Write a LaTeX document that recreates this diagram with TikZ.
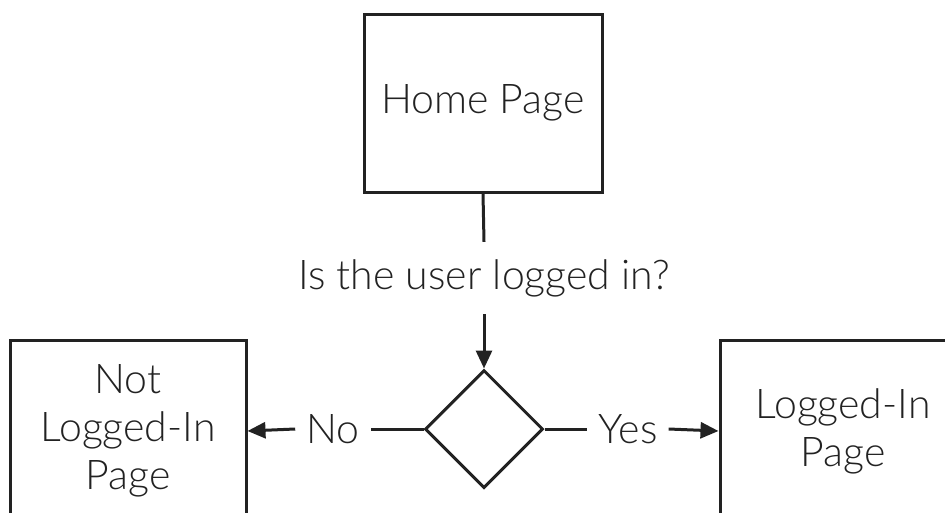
\documentclass[tikz,border=0pt]{standalone}
\usepackage{fontspec}
\setmainfont{Lato}[UprightFont={* Light}]
\usetikzlibrary{shapes.geometric,arrows.meta}
\definecolor{ink}{RGB}{34,34,34}
\begin{document}
\begin{tikzpicture}[x=1pt,y=-1pt,
  every node/.style={font=\fontsize{41}{48}\selectfont, text=ink},
  box/.style={draw=ink, line width=3pt, rectangle, inner sep=0pt, align=center, minimum width=236pt, minimum height=182pt},
  conn/.style={draw=ink, line width=3pt},
  arr/.style={conn, -{Triangle[length=18pt,width=16pt]}},
  lbl/.style={inner xsep=11pt, inner ysep=0pt}]
\useasboundingbox (0,0) rectangle (945,512);
\clip (0,0) rectangle (945,512);
\node[box, minimum width=238pt, minimum height=178pt] (home) at (483,103) {Home Page};
\node[inner sep=0pt, text height=31pt, text depth=9pt, inner ysep=16pt] (q) at (484,278) {Is the user logged in?};
\node[draw=ink, line width=3pt, diamond, aspect=1, inner sep=0pt, minimum width=118pt, minimum height=118pt] (dia) at (484,429) {};
\node[box] (notlog) at (128,431) {Not\\Logged-In\\Page};
\node[box, minimum width=246pt] (log) at (843,431) {Logged-In\\Page};
\node[lbl] (no) at (333,429) {No};
\node[lbl] (yes) at (628,429) {Yes};
\draw[conn] (home.south) -- (q.north);
\draw[arr] (q.south) -- (dia.north);
\draw[conn] (dia.west) -- (no.east);
\draw[arr] (no.west) -- (notlog.east);
\draw[conn] (dia.east) -- (yes.west);
\draw[arr] (yes.east) -- (log.west);
\end{tikzpicture}
\end{document}
